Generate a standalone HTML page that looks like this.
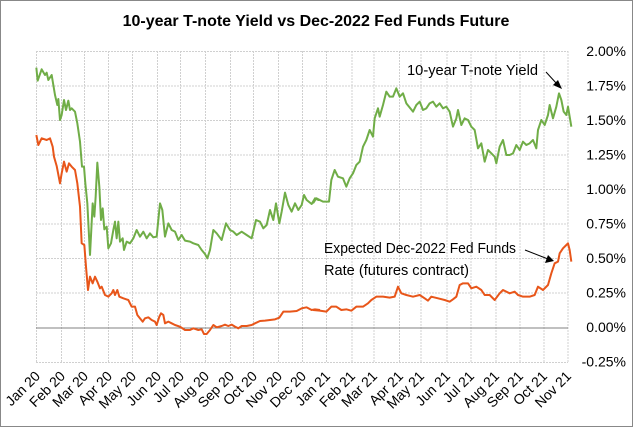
<!DOCTYPE html>
<html><head><meta charset="utf-8"><style>
html,body{margin:0;padding:0;background:#fff}
svg{display:block;font-family:"Liberation Sans",sans-serif}
</style></head><body>
<svg width="633" height="427" viewBox="0 0 633 427" xmlns="http://www.w3.org/2000/svg">
<rect x="0.5" y="0.5" width="632" height="426" fill="#fff" stroke="#888"/>
<text x="316" y="26" text-anchor="middle" font-size="16" font-weight="bold" fill="#000">10-year T-note Yield vs Dec-2022 Fed Funds Future</text>
<g stroke="#d0d0d0" stroke-width="1" stroke-dasharray="2,1">
<line x1="36" y1="51.5" x2="568" y2="51.5"/><line x1="36" y1="86" x2="568" y2="86"/><line x1="36" y1="120.5" x2="568" y2="120.5"/><line x1="36" y1="155" x2="568" y2="155"/><line x1="36" y1="189.5" x2="568" y2="189.5"/><line x1="36" y1="224" x2="568" y2="224"/><line x1="36" y1="258.5" x2="568" y2="258.5"/><line x1="36" y1="293" x2="568" y2="293"/><line x1="36" y1="362.5" x2="568" y2="362.5"/>
<g>
<line x1="36.5" y1="51" x2="36.5" y2="363"/><line x1="61.5" y1="51" x2="61.5" y2="363"/><line x1="84.5" y1="51" x2="84.5" y2="363"/><line x1="108.5" y1="51" x2="108.5" y2="363"/><line x1="132.5" y1="51" x2="132.5" y2="363"/><line x1="157.5" y1="51" x2="157.5" y2="363"/><line x1="180.5" y1="51" x2="180.5" y2="363"/><line x1="205.5" y1="51" x2="205.5" y2="363"/><line x1="230.5" y1="51" x2="230.5" y2="363"/><line x1="253.5" y1="51" x2="253.5" y2="363"/><line x1="278.5" y1="51" x2="278.5" y2="363"/><line x1="302.5" y1="51" x2="302.5" y2="363"/><line x1="326.5" y1="51" x2="326.5" y2="363"/><line x1="352" y1="51" x2="352" y2="363"/><line x1="374" y1="51" x2="374" y2="363"/><line x1="399.5" y1="51" x2="399.5" y2="363"/><line x1="421" y1="51" x2="421" y2="363"/><line x1="447" y1="51" x2="447" y2="363"/><line x1="471" y1="51" x2="471" y2="363"/><line x1="496" y1="51" x2="496" y2="363"/><line x1="520" y1="51" x2="520" y2="363"/><line x1="544" y1="51" x2="544" y2="363"/><line x1="568" y1="51" x2="568" y2="363"/>
</g></g>
<line x1="36" y1="328" x2="568" y2="328" stroke="#808080" stroke-width="1"/>
<g fill="none" stroke-width="2" stroke-linejoin="round">
<g transform="translate(0,30) scale(0.33333)">
<polyline vector-effect="non-scaling-stroke" stroke="#70ad47" points="109,113 113,152 125,118 135,135 140,128 145,150 155,135 160,165 165,195 172,225 175,207 180,270 185,255 192,210 198,240 205,212 210,240 215,235 225,245 232,280 240,335 246,410 252,410 256,460 262,520 270,675 278,520 283,560 287,500 292,398 298,470 303,570 308,535 313,598 320,590 325,655 333,640 340,600 345,575 350,625 355,575 360,635 368,625 372,660 380,635 390,640 400,625 410,600 420,620 430,605 440,625 450,610 460,622 470,620 480,520 487,540 495,620 505,580 515,600 525,605 535,630 545,615 555,632 570,635 580,640 595,645 605,660 615,672 622,685 630,660 640,600 650,610 665,630 678,580 690,600 700,605 710,615 725,605 740,615 755,625 768,570 780,575 790,595 800,585 810,540 820,570 828,520 838,580 845,545 855,488 865,525 875,545 885,520 895,540 905,525 912,495 920,510 935,522 945,505 955,510 960,510"/>
<polyline vector-effect="non-scaling-stroke" stroke="#e8561a" points="109,315 115,345 125,325 140,330 150,325 158,350 162,380 170,408 180,460 185,430 192,395 200,425 207,400 215,410 225,420 232,460 240,530 245,640 253,645 258,710 264,780 270,740 278,760 285,740 292,755 300,775 305,770 315,795 325,800 335,790 340,780 345,795 352,780 358,800 370,805 385,810 395,830 405,830 412,855 420,865 428,875 435,865 445,862 455,870 465,875 470,885 478,860 483,850 490,855 495,880 505,875 515,880 525,885 540,890 555,900 570,900 580,895 595,900 605,898 612,912 620,912 630,900 640,885 650,892 665,888 675,884 685,888 695,884 705,890 715,895 725,888 740,888 755,885 765,880 780,873 795,872 810,870 825,868 838,863 850,845 870,845 890,843 905,835 920,832 935,840 945,838 960,840"/>
</g>
<g transform="translate(313,30) scale(0.33333)">
<polyline vector-effect="non-scaling-stroke" stroke="#70ad47" points="0,520 10,505 30,515 48,515 55,450 65,420 75,440 90,445 100,470 110,445 120,430 130,405 140,395 150,350 160,330 170,300 175,310 180,320 185,265 195,235 200,260 210,225 220,185 230,200 240,200 250,175 260,200 270,190 280,220 300,245 310,225 320,215 330,240 340,235 350,220 360,215 370,230 380,220 390,235 400,230 410,245 420,290 430,265 435,240 445,285 455,265 465,270 475,290 485,300 495,355 505,340 515,395 525,360 535,370 545,380 550,400 560,350 570,330 580,375 590,375 600,370 610,345 620,360 630,335 640,345 650,340 660,330 670,355 675,300 685,270 695,285 705,255 710,225 720,265 730,230 738,190 745,210 752,245 760,255 765,230 770,260 775,290"/>
<polyline vector-effect="non-scaling-stroke" stroke="#e8561a" points="0,840 20,842 40,845 55,830 70,830 85,840 100,838 115,842 130,830 150,830 165,820 175,810 190,800 210,800 230,803 245,800 255,770 265,790 280,795 300,800 320,795 335,805 345,812 355,800 375,805 395,810 410,815 420,808 430,800 440,765 450,760 465,760 475,775 490,770 505,780 515,795 530,795 545,810 560,790 570,780 590,790 605,785 615,795 630,800 650,800 665,795 675,770 690,780 705,765 715,730 725,700 735,695 740,670 750,655 760,645 765,640 770,660 775,695"/>
</g></g>
<g stroke="#000" stroke-width="1"><line x1="546" y1="72" x2="557" y2="84"/><line x1="525" y1="250" x2="548" y2="259"/></g>
<polygon points="562,89 553,85 558,80" fill="#000"/>
<polygon points="554,261 545,263 548,255" fill="#000"/>
<g font-size="14.5" fill="#000">
<text x="407" y="75" textLength="131" lengthAdjust="spacingAndGlyphs">10-year T-note Yield</text>
<text x="324" y="253" textLength="192" lengthAdjust="spacingAndGlyphs">Expected Dec-2022 Fed Funds</text>
<text x="324" y="275" textLength="145" lengthAdjust="spacingAndGlyphs">Rate (futures contract)</text>
</g>
<g font-size="14" fill="#000" text-anchor="end">
<text x="626" y="56">2.00%</text><text x="626" y="90.5">1.75%</text><text x="626" y="125">1.50%</text><text x="626" y="159.5">1.25%</text><text x="626" y="194">1.00%</text><text x="626" y="228.5">0.75%</text><text x="626" y="263">0.50%</text><text x="626" y="297.5">0.25%</text><text x="626" y="332">0.00%</text><text x="626" y="366.5">-0.25%</text>
</g>
<g font-size="14" fill="#000" text-anchor="end">
<text transform="translate(41,377) rotate(-45)">Jan 20</text>
<text transform="translate(66,377) rotate(-45)">Feb 20</text>
<text transform="translate(89,377) rotate(-45)">Mar 20</text>
<text transform="translate(113,377) rotate(-45)">Apr 20</text>
<text transform="translate(137,377) rotate(-45)">May 20</text>
<text transform="translate(162,377) rotate(-45)">Jun 20</text>
<text transform="translate(185,377) rotate(-45)">Jul 20</text>
<text transform="translate(210,377) rotate(-45)">Aug 20</text>
<text transform="translate(235,377) rotate(-45)">Sep 20</text>
<text transform="translate(258,377) rotate(-45)">Oct 20</text>
<text transform="translate(283,377) rotate(-45)">Nov 20</text>
<text transform="translate(307,377) rotate(-45)">Dec 20</text>
<text transform="translate(331,377) rotate(-45)">Jan 21</text>
<text transform="translate(356,377) rotate(-45)">Feb 21</text>
<text transform="translate(378,377) rotate(-45)">Mar 21</text>
<text transform="translate(404,377) rotate(-45)">Apr 21</text>
<text transform="translate(425,377) rotate(-45)">May 21</text>
<text transform="translate(451,377) rotate(-45)">Jun 21</text>
<text transform="translate(475,377) rotate(-45)">Jul 21</text>
<text transform="translate(500,377) rotate(-45)">Aug 21</text>
<text transform="translate(524,377) rotate(-45)">Sep 21</text>
<text transform="translate(548,377) rotate(-45)">Oct 21</text>
<text transform="translate(572,377) rotate(-45)">Nov 21</text>
</g>
</svg>
</body></html>
